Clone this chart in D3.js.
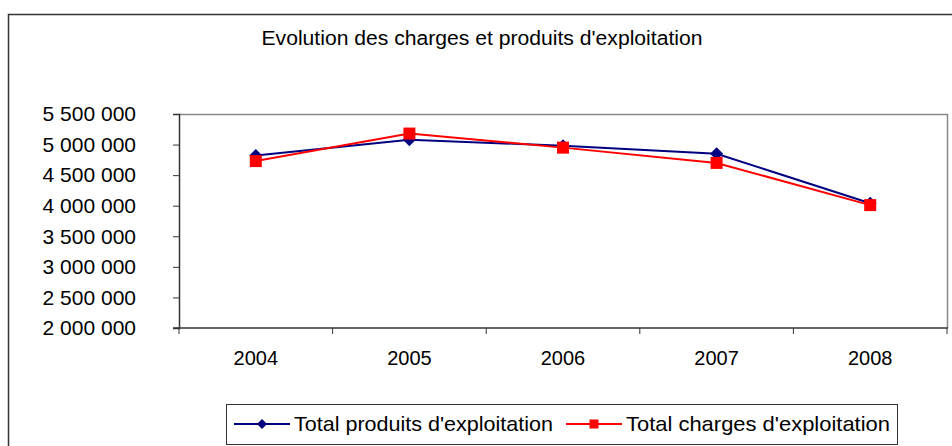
<!DOCTYPE html>
<html>
<head>
<meta charset="utf-8">
<script src="https://cdn.jsdelivr.net/npm/d3@7"></script>
<style>
  body { margin: 0; background: #fff; }
  svg { display: block; font-family: "Liberation Sans", Arial, sans-serif; }
</style>
</head>
<body>
<div id="chart"></div>
<script>
// data
var years = ["2004", "2005", "2006", "2007", "2008"];
var produits = [4820000, 5080000, 4980000, 4850000, 4040000];
var charges = [4730000, 5180000, 4950000, 4700000, 4010000];
var yTicks = [2000000, 2500000, 3000000, 3500000, 4000000, 4500000, 5000000, 5500000];
var seriesNames = ["Total produits d'exploitation", "Total charges d'exploitation"];
var seriesColors = ["#000080", "#ff0000"];

var W = 952, H = 446;
var plotL = 179, plotR = 947, plotT = 114, plotB = 328;

var svg = d3.select("#chart").append("svg")
    .attr("width", W).attr("height", H);

// outer chart border (right and bottom run off the picture)
svg.append("rect")
    .attr("x", 8.5).attr("y", 14.5)
    .attr("width", 960).attr("height", 460)
    .attr("fill", "none").attr("stroke", "#333").attr("stroke-width", 1.5);

svg.append("text")
    .attr("x", 482).attr("y", 45)
    .attr("text-anchor", "middle")
    .attr("font-size", 20)
    .attr("textLength", 441).attr("lengthAdjust", "spacingAndGlyphs")
    .text("Evolution des charges et produits d'exploitation");

var x = d3.scaleBand().domain(years).range([plotL, plotR]);
var y = d3.scaleLinear().domain([2000000, 5500000]).range([plotB, plotT]);

// plot area frame: grey top and right
svg.append("path")
    .attr("d", "M" + plotL + "," + (plotT + 0.5) + "H" + (plotR + 0.5) + "V" + plotB)
    .attr("fill", "none").attr("stroke", "#888").attr("stroke-width", 1.5);

var fmt = function(v){ return d3.format(",")(v).replace(/,/g, " "); };

var yAxis = svg.append("g")
    .attr("transform", "translate(" + plotL + ",0)")
    .call(d3.axisLeft(y).tickValues(yTicks).tickSize(6).tickPadding(37).tickFormat(fmt));
yAxis.select(".domain").attr("stroke", "#333").attr("stroke-width", 1.5);
yAxis.selectAll(".tick line").attr("stroke", "#333");
yAxis.selectAll("text").attr("font-size", 21).attr("fill", "#000")
    .attr("font-family", "Liberation Sans, Arial, sans-serif");

// x axis: ticks between categories
var xAxis = svg.append("g").attr("transform", "translate(0," + plotB + ")");
xAxis.append("line")
    .attr("x1", plotL - 6).attr("x2", plotR + 1)
    .attr("stroke", "#333").attr("stroke-width", 1.5);
var bounds = years.map(function(d){ return x(d); }).concat([plotR]);
xAxis.selectAll(".xt").data(bounds).enter().append("line")
    .attr("x1", function(d){ return d; }).attr("x2", function(d){ return d; })
    .attr("y1", 0).attr("y2", 6)
    .attr("stroke", "#333");
xAxis.selectAll(".xl").data(years).enter().append("text")
    .attr("x", function(d){ return x(d) + x.bandwidth() / 2; })
    .attr("y", 37)
    .attr("text-anchor", "middle")
    .attr("font-size", 20)
    .text(function(d){ return d; });

var line = d3.line()
    .x(function(d, i){ return x(years[i]) + x.bandwidth() / 2; })
    .y(function(d){ return y(d); });

function marker(s, big){
    var r = big ? 6.5 : 5;
    if (s === 0) return "M0," + (-r) + "L" + r + ",0L0," + r + "L" + (-r) + ",0Z";
    var h = big ? 6 : 4.5;
    return "M" + (-h) + "," + (-h) + "H" + h + "V" + h + "H" + (-h) + "Z";
}

[produits, charges].forEach(function(vals, s){
    svg.append("path")
        .attr("d", line(vals))
        .attr("fill", "none")
        .attr("stroke", seriesColors[s])
        .attr("stroke-width", 2);
    svg.selectAll(".m" + s).data(vals).enter().append("path")
        .attr("d", marker(s, true))
        .attr("transform", function(d, i){
            return "translate(" + (x(years[i]) + x.bandwidth() / 2) + "," + y(d) + ")";
        })
        .attr("fill", seriesColors[s]);
});

// legend
var lg = svg.append("g");
lg.append("rect")
    .attr("x", 226.5).attr("y", 404.5).attr("width", 671).attr("height", 40)
    .attr("fill", "#fff").attr("stroke", "#333").attr("stroke-width", 1);
var lx = [234, 566];
var lw = [259, 264];
seriesNames.forEach(function(name, s){
    lg.append("line")
        .attr("x1", lx[s]).attr("x2", lx[s] + 56)
        .attr("y1", 424).attr("y2", 424)
        .attr("stroke", seriesColors[s]).attr("stroke-width", 2);
    lg.append("path")
        .attr("d", marker(s, false))
        .attr("transform", "translate(" + (lx[s] + 28) + ",424)")
        .attr("fill", seriesColors[s]);
    lg.append("text")
        .attr("x", lx[s] + 60).attr("y", 431)
        .attr("font-size", 21)
        .attr("textLength", lw[s]).attr("lengthAdjust", "spacingAndGlyphs")
        .text(name);
});
</script>
</body>
</html>
